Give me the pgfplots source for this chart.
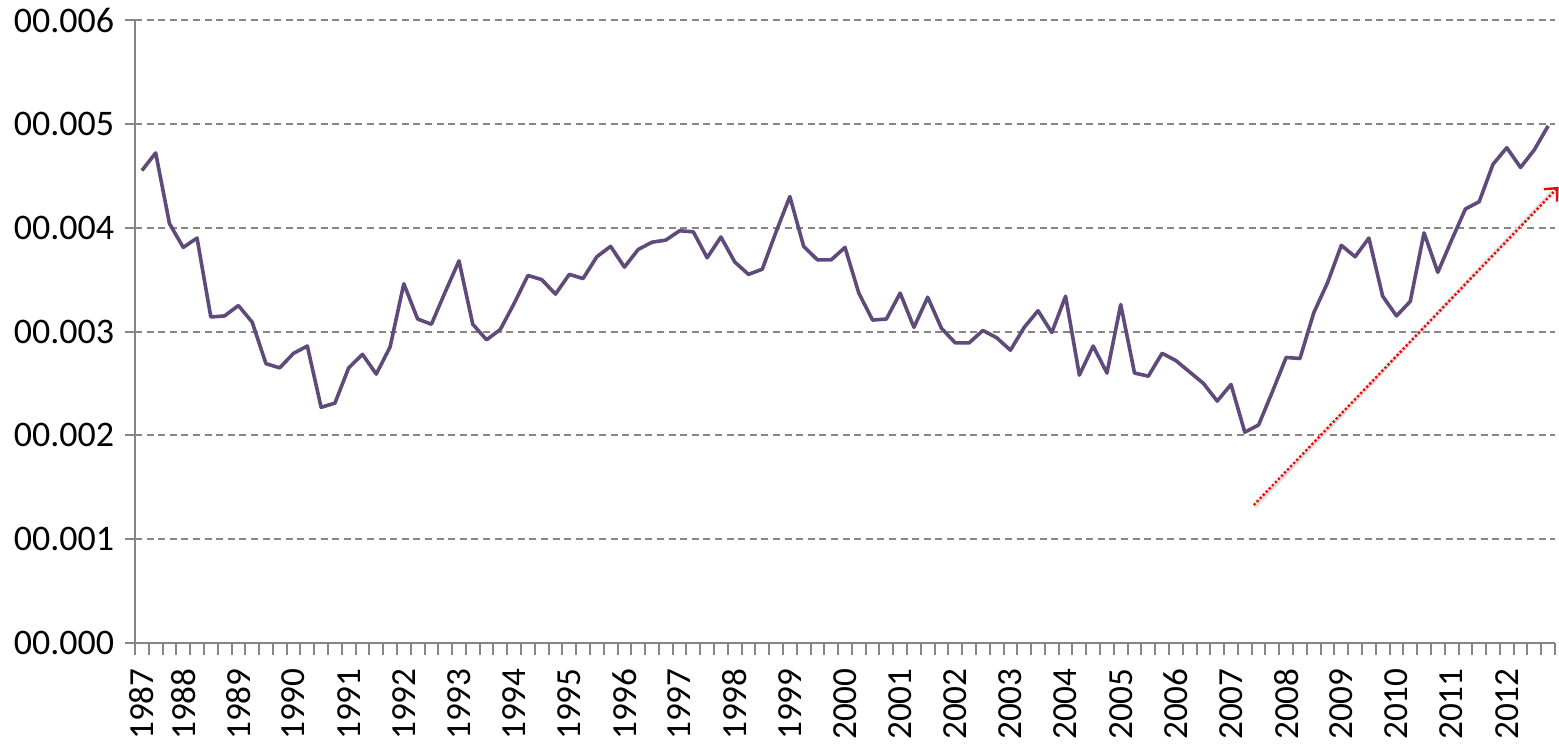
\documentclass[border=0pt]{standalone}
\usepackage{fontspec}
\setmainfont{Carlito}
\usepackage{pgfplots}
\usepackage{pgfplotstable}
\pgfplotsset{compat=1.18}
\usetikzlibrary{arrows.meta}
\definecolor{linepurple}{RGB}{96,74,123}
\definecolor{axgray}{RGB}{134,134,134}

\pgfplotstableread{
i v
0 0.00455
1 0.00472
2 0.00404
3 0.00381
4 0.00390
5 0.00314
6 0.00315
7 0.00325
8 0.00309
9 0.00269
10 0.00265
11 0.00279
12 0.00286
13 0.00227
14 0.00231
15 0.00265
16 0.00278
17 0.00259
18 0.00285
19 0.00346
20 0.00312
21 0.00307
22 0.00338
23 0.00368
24 0.00307
25 0.00292
26 0.00302
27 0.00327
28 0.00354
29 0.00350
30 0.00336
31 0.00355
32 0.00351
33 0.00372
34 0.00382
35 0.00362
36 0.00379
37 0.00386
38 0.00388
39 0.00397
40 0.00396
41 0.00371
42 0.00391
43 0.00367
44 0.00355
45 0.00360
46 0.00396
47 0.00430
48 0.00382
49 0.00369
50 0.00369
51 0.00381
52 0.00337
53 0.00311
54 0.00312
55 0.00337
56 0.00304
57 0.00333
58 0.00303
59 0.00289
60 0.00289
61 0.00301
62 0.00294
63 0.00282
64 0.00304
65 0.00320
66 0.00299
67 0.00334
68 0.00258
69 0.00286
70 0.00260
71 0.00326
72 0.00260
73 0.00257
74 0.00279
75 0.00272
76 0.00261
77 0.00250
78 0.00233
79 0.00249
80 0.00203
81 0.00210
82 0.00242
83 0.00275
84 0.00274
85 0.00318
86 0.00347
87 0.00383
88 0.00372
89 0.00390
90 0.00334
91 0.00315
92 0.00329
93 0.00395
94 0.00357
95 0.00388
96 0.00418
97 0.00425
98 0.00461
99 0.00477
100 0.00458
101 0.00475
102 0.00498
}\datatable

\begin{document}
\fontsize{18}{21}\selectfont
\begin{tikzpicture}
\begin{axis}[
  at={(0,0)}, anchor=south west,
  scale only axis, width=710pt, height=311.5pt,
  xmin=-0.5, xmax=102.5, ymin=0, ymax=0.006,
  axis lines=left,
  axis line style={-, axgray, line width=1pt},
  clip=false,
  tick align=outside,
  major tick length=5pt, minor tick length=6pt,
  tick label style={font=\fontsize{18}{21}\selectfont},
  xtick={0,3,7,11,15,19,23,27,31,35,39,43,47,51,55,59,63,67,71,75,79,83,87,91,95,99},
  xticklabels={1987,1988,1989,1990,1991,1992,1993,1994,1995,1996,1997,1998,1999,2000,2001,2002,2003,2004,2005,2006,2007,2008,2009,2010,2011,2012},
  major x tick style={draw=none},
  minor xtick={-0.5,0.5,...,102.5},
  minor x tick style={axgray, line width=1pt},
  xticklabel style={rotate=90, anchor=east, inner sep=0pt, font=\fontsize{17.6}{21}\selectfont},
  xticklabel shift=7.5pt,
  ytick={0,0.001,0.002,0.003,0.004,0.005,0.006},
  yticklabels={00.000,00.001,00.002,00.003,00.004,00.005,00.006},
  yticklabel style={inner sep=5.2pt},
  major y tick style={axgray, line width=1pt},
  ymajorgrids,
  major y grid style={axgray, line width=1pt, dash pattern=on 3.5pt off 2.3pt},
  scaled y ticks=false,
]
\addplot[black!12, line width=2pt, forget plot] coordinates {(80.72,0.001312) (102.3,0.004345)};
\addplot[red, line width=1.2pt, dash pattern=on 1.1pt off 1.1pt,
  -{Straight Barb[length=5pt,width=9pt,line width=1.2pt]}] coordinates {(80.65,0.001329) (102.76,0.004393)};
\addplot[linepurple, line width=1.8pt, line join=round, mark=none] table[x=i, y=v] {\datatable};
\end{axis}
\pgfresetboundingbox
\path (-67.5pt,-51pt) rectangle (712pt,321.5pt);
\end{tikzpicture}
\end{document}
